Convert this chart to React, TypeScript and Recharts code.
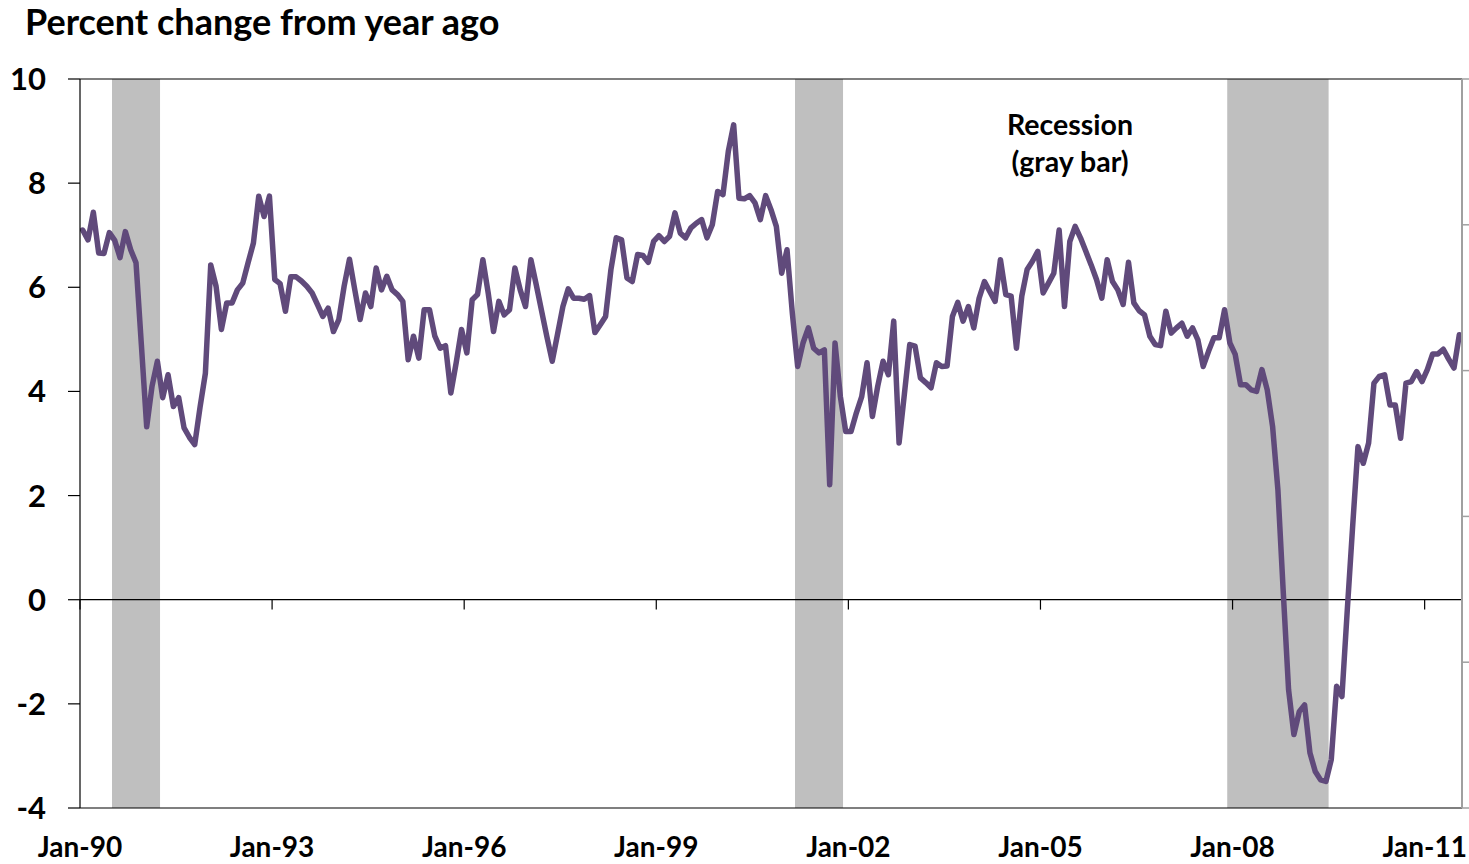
import React from 'react';
import { LineChart, Line, XAxis, YAxis, ReferenceArea, ReferenceLine } from 'recharts';

const START_YEAR = 1990;

// Monthly values, Jan-1990 .. Jul-2011 (percent change from year ago)
const yoyPercentChange: number[] = [
  7.1, 6.91, 7.44, 6.66, 6.65, 7.05, 6.9, 6.57, 7.07, 6.72, 6.47, 4.9,
  3.32, 4.1, 4.58, 3.88, 4.32, 3.71, 3.88, 3.3, 3.12, 2.98, 3.7, 4.35,
  6.43, 6.02, 5.19, 5.7, 5.7, 5.95, 6.08, 6.47, 6.85, 7.75, 7.36, 7.75,
  6.15, 6.07, 5.54, 6.2, 6.2, 6.12, 6.02, 5.89, 5.67, 5.44, 5.6, 5.15,
  5.38, 6.02, 6.54, 5.95, 5.38, 5.89, 5.63, 6.37, 5.95, 6.21, 5.95, 5.86,
  5.73, 4.61, 5.06, 4.64, 5.57, 5.57, 5.06, 4.83, 4.88, 3.97, 4.55, 5.19,
  4.74, 5.76, 5.86, 6.53, 5.89, 5.15, 5.73, 5.47, 5.57, 6.37, 5.95, 5.63,
  6.53, 6.05, 5.55, 5.05, 4.58, 5.1, 5.63, 5.97, 5.79, 5.79, 5.77, 5.84,
  5.13, 5.28, 5.44, 6.34, 6.95, 6.91, 6.18, 6.11, 6.63, 6.61, 6.48, 6.88,
  6.99, 6.88, 6.98, 7.43, 7.04, 6.95, 7.14, 7.23, 7.3, 6.95, 7.2, 7.84,
  7.78, 8.61, 9.12, 7.71, 7.7, 7.76, 7.62, 7.3, 7.76, 7.49, 7.17, 6.27,
  6.72, 5.5, 4.48, 4.93, 5.22, 4.83, 4.74, 4.8, 2.21, 4.93, 3.9, 3.23,
  3.23, 3.59, 3.9, 4.55, 3.52, 4.1, 4.58, 4.32, 5.35, 3.01, 3.95, 4.9,
  4.87, 4.26, 4.17, 4.07, 4.55, 4.48, 4.49, 5.44, 5.71, 5.35, 5.63, 5.22,
  5.79, 6.11, 5.92, 5.73, 6.53, 5.86, 5.83, 4.83, 5.83, 6.34, 6.5, 6.69,
  5.89, 6.08, 6.27, 7.1, 5.63, 6.88, 7.17, 6.95, 6.69, 6.43, 6.15, 5.79,
  6.53, 6.11, 5.95, 5.67, 6.48, 5.7, 5.55, 5.47, 5.06, 4.9, 4.88, 5.54,
  5.12, 5.22, 5.31, 5.06, 5.22, 4.99, 4.48, 4.77, 5.03, 5.03, 5.57, 4.93,
  4.71, 4.13, 4.13, 4.03, 4.0, 4.42, 4.03, 3.33, 2.11, 0.15, -1.73, -2.59,
  -2.15, -2.02, -2.94, -3.3, -3.46, -3.49, -3.07, -1.66, -1.86, -0.2, 1.4, 2.94,
  2.62, 3.01, 4.16, 4.29, 4.32, 3.74, 3.74, 3.1, 4.16, 4.19, 4.38, 4.19,
  4.42, 4.72, 4.72, 4.81, 4.62, 4.45, 5.09,
];

const recessionStarts = ['1990-07', '2001-03', '2007-12'];
const recessionEnds = ['1991-03', '2001-11', '2009-06'];

const xTickDates = ['1990-01', '1993-01', '1996-01', '1999-01', '2002-01', '2005-01', '2008-01', '2011-01'];
const xTickLabels = ['Jan-90', 'Jan-93', 'Jan-96', 'Jan-99', 'Jan-02', 'Jan-05', 'Jan-08', 'Jan-11'];
const yTicks = [-4, -2, 0, 2, 4, 6, 8, 10];
const secondaryTicks = [0, 1, 2, 3, 4, 5];

const chartTitle = 'Percent change from year ago';
const noteLines = ['Recession', '(gray bar)'];

const monthIndex = (d: string) => {
  const [y, m] = d.split('-').map(Number);
  return (y - START_YEAR) * 12 + (m - 1);
};

const data = yoyPercentChange.map((v, i) => ({ t: i + 0.5, v }));
const X_MAX = yoyPercentChange.length;
const xTicks = xTickDates.map(monthIndex);
const labelFor = (t: number) => xTickLabels[xTicks.indexOf(t)] ?? '';
const recessions = recessionStarts.map((s, i) => ({ x1: monthIndex(s), x2: monthIndex(recessionEnds[i]) + 1 }));

const FONT = 'Lato, "Open Sans", sans-serif';
const LINE_COLOR = '#604a7b';

export default function App() {
  return (
    <div style={{ position: 'absolute', left: 0, top: 0, width: 1469, height: 864, background: '#fff' }}>
      <div
        style={{
          position: 'absolute', left: 25, top: 1, fontFamily: FONT, fontWeight: 700,
          fontSize: 36, lineHeight: '40px', color: '#000', whiteSpace: 'nowrap',
        }}
      >
        {chartTitle}
      </div>
      <LineChart width={1469} height={864} data={data} margin={{ top: 78, right: 0, bottom: 0, left: 0 }}>
        {recessions.map((r, i) => (
          <ReferenceArea
            key={i}
            xAxisId="x"
            yAxisId="left"
            x1={r.x1}
            x2={r.x2}
            y1={-4}
            y2={10}
            fill="#bfbfbf"
            fillOpacity={1}
            stroke="none"
          />
        ))}
        <XAxis
          xAxisId="x"
          dataKey="t"
          type="number"
          domain={[0, X_MAX]}
          ticks={xTicks}
          interval={0}
          tickFormatter={labelFor}
          axisLine={{ stroke: '#000', strokeWidth: 1.2 }}
          tickLine={false}
          tickSize={0}
          tickMargin={29}
          height={56}
          tick={{ fontFamily: FONT, fontWeight: 700, fontSize: 28, fill: '#000' }}
          allowDataOverflow
        />
        <XAxis
          xAxisId="top"
          orientation="top"
          dataKey="t"
          type="number"
          domain={[0, X_MAX]}
          tick={false}
          tickLine={false}
          axisLine={{ stroke: '#000', strokeWidth: 1.2 }}
          height={1}
          allowDataOverflow
        />
        <YAxis
          yAxisId="left"
          type="number"
          domain={[-4, 10]}
          ticks={yTicks}
          interval={0}
          width={80}
          tickSize={12}
          tickMargin={22}
          axisLine={{ stroke: '#000', strokeWidth: 1.2 }}
          tickLine={{ stroke: '#000', strokeWidth: 1.2 }}
          tick={{ fontFamily: FONT, fontWeight: 700, fontSize: 31, fill: '#000' }}
          allowDataOverflow
        />
        <YAxis
          yAxisId="right"
          orientation="right"
          type="number"
          domain={[0, 5]}
          ticks={secondaryTicks}
          interval={0}
          width={7}
          tickSize={7}
          tickMargin={0}
          tickFormatter={() => ''}
          axisLine={{ stroke: '#a0a0a0', strokeWidth: 2 }}
          tickLine={{ stroke: '#a0a0a0', strokeWidth: 1.5 }}
          allowDataOverflow
        />
        <ReferenceLine xAxisId="x" yAxisId="left" y={0} stroke="#000" strokeWidth={1.2} />
        {xTicks.map((t) => (
          <ReferenceLine
            key={t}
            xAxisId="x"
            yAxisId="left"
            segment={[{ x: t, y: 0 }, { x: t, y: -0.19 }]}
            stroke="#000"
            strokeWidth={1.2}
          />
        ))}
        <Line
          xAxisId="x"
          yAxisId="left"
          type="linear"
          dataKey="v"
          stroke={LINE_COLOR}
          strokeWidth={5.5}
          dot={false}
          activeDot={false}
          isAnimationActive={false}
          strokeLinejoin="round"
          strokeLinecap="round"
        />
      </LineChart>
      <div
        style={{
          position: 'absolute', left: 970, top: 106, width: 200, textAlign: 'center',
          fontFamily: FONT, fontWeight: 700, fontSize: 28.5, lineHeight: '37px', color: '#000',
        }}
      >
        {noteLines.map((l) => (
          <div key={l}>{l}</div>
        ))}
      </div>
    </div>
  );
}
